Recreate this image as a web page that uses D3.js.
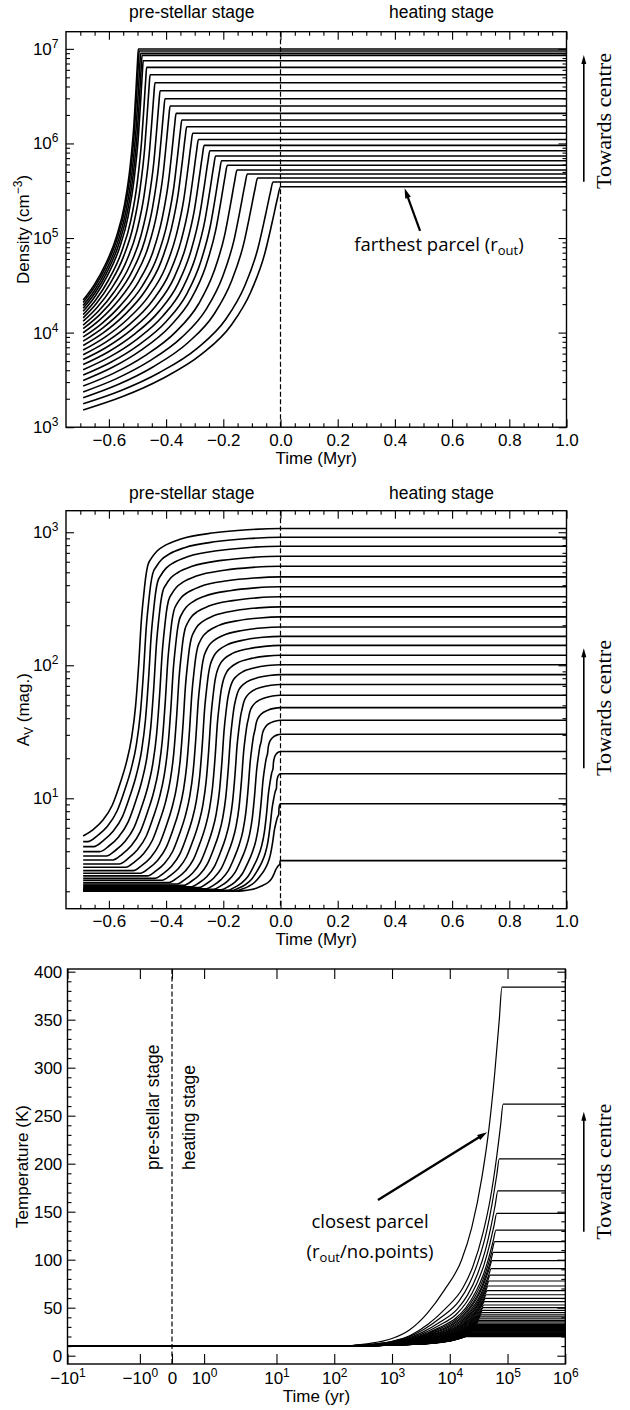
<!DOCTYPE html>
<html>
<head>
<meta charset="utf-8">
<script src="https://cdn.jsdelivr.net/npm/d3@7/dist/d3.min.js"></script>
<style>
html,body{margin:0;padding:0;background:#fff;}
svg{display:block;}
</style>
</head>
<body>
<svg id="chart" width="630" height="1410"></svg>
<script>
// ================= DATA =================
// --- panel 1 : density of each parcel (cm^-3) ---
const collapseStart = -0.69;                 // Myr, start of pre-stellar collapse
const densityStart = [2.21e4, 2.08e4, 1.94e4, 1.81e4, 1.68e4, 1.55e4, 1.43e4, 1.32e4, 1.20e4, 1.10e4,
                      9.96e3, 9.0e3, 8.13e3, 7.31e3, 6.54e3, 5.84e3, 5.19e3, 4.59e3, 4.05e3, 3.56e3,
                      3.12e3, 2.72e3, 2.36e3, 2.05e3, 1.77e3, 1.52e3];
const densityFinal = [9.95e6, 9.48e6, 8.96e6, 8.53e6, 7.48e6, 6.37e6, 5.32e6, 4.38e6, 3.61e6, 2.97e6,
                      2.49e6, 2.08e6, 1.77e6, 1.50e6, 1.28e6, 1.10e6, 9.55e5, 8.38e5, 7.36e5, 6.57e5,
                      5.87e5, 5.23e5, 4.75e5, 4.31e5, 3.91e5, 3.48e5];
const densityReached = [-0.497, -0.494, -0.489, -0.484, -0.480, -0.468, -0.456, -0.439, -0.421, -0.404,
                        -0.386, -0.365, -0.345, -0.328, -0.307, -0.287, -0.267, -0.247, -0.227, -0.206,
                        -0.186, -0.152, -0.116, -0.080, -0.026, 0.0];
// normalised collapse profile read from the farthest parcel (time fraction -> log-density fraction)
const collapseShapeF = [0, 0.2, 0.4, 0.6, 0.75, 0.85, 0.92, 0.96, 0.985, 1];
const collapseShapeG = [0, 0.06, 0.14, 0.25, 0.38, 0.53, 0.70, 0.85, 0.95, 1];

// --- panel 2 : visual extinction (mag) ---
const avStart = [5.21, 4.72, 4.33, 3.97, 3.68, 3.44, 3.21, 3.03, 2.86, 2.73, 2.61, 2.50, 2.42,
                 2.33, 2.27, 2.22, 2.16, 2.13, 2.09, 2.07, 2.05, 2.03, 2.02, 2.01, 2.0];
const avFinal = [1067, 916, 785, 660, 555, 462, 389, 327, 275, 231, 194, 165, 141,
                 119, 101, 85, 71.7, 59.5, 48, 38.6, 30.3, 22.5, 15.3, 9.1, 3.4];
const avRiseStart = [-0.69, -0.674, -0.653, -0.632, -0.609, -0.586, -0.564, -0.541, -0.515, -0.490,
                     -0.465, -0.439, -0.414, -0.389, -0.362, -0.337, -0.311, -0.285, -0.259, -0.234,
                     -0.208, -0.186, -0.171, -0.159, -0.152];
const avKnee = [-0.464, -0.447, -0.430, -0.412, -0.392, -0.373, -0.354, -0.334, -0.312, -0.290,
                -0.268, -0.246, -0.224, -0.202, -0.179, -0.157, -0.134, -0.112, -0.089, -0.067,
                -0.045, -0.026, -0.014, -0.006, -0.002];
const avRiseF = [0, 0.15, 0.3, 0.45, 0.57, 0.67, 0.75, 0.81, 0.86, 0.9, 0.94, 0.97, 1];
const avRiseG = [0, 0.02, 0.05, 0.1, 0.17, 0.24, 0.32, 0.42, 0.56, 0.7, 0.79, 0.845, 0.88];
const avSettleU = [0.03, 0.07, 0.13, 0.25, 0.5, 0.75, 1];
const avSettleG = [0.905, 0.927, 0.945, 0.966, 0.986, 0.996, 1];

// --- panel 3 : temperature (K) ---
const tempInitial = 10;
const tempFinal = [384, 262, 205, 171.6, 148.3, 130.9, 118.8, 107.7, 99, 90.6,
                   84, 77.8, 72.6, 67.7, 63.5, 59.8, 56.3, 52.8, 50, 47.3,
                   44.8, 42.5, 40.4, 38.5, 36.8, 35.2, 33.8, 32.5, 31.3, 30.2,
                   29.2, 28.3, 27.5, 26.8, 26.1, 25.5, 24.9, 24.4, 23.9, 23.4,
                   23.0, 22.6, 22.2, 21.9, 21.6, 21.3, 21.0, 20.7, 20.5, 20.3,
                   20.1, 19.9];
const tempPlateauTime = [8.0e4, 8.4e4, 7.2e4, 6.8e4, 6.5e4, 6.3e4, 6.0e4, 5.7e4, 5.4e4, 5.2e4,
                         5.0e4, 4.8e4, 4.6e4, 4.45e4, 4.3e4, 4.15e4, 4.0e4, 3.9e4, 3.8e4, 3.7e4,
                         3.6e4, 3.5e4, 3.4e4, 3.3e4, 3.2e4, 3.12e4, 3.04e4, 2.96e4, 2.88e4, 2.8e4,
                         2.73e4, 2.66e4, 2.6e4, 2.54e4, 2.48e4, 2.42e4, 2.37e4, 2.32e4, 2.27e4, 2.22e4,
                         2.18e4, 2.14e4, 2.1e4, 2.07e4, 2.04e4, 2.01e4, 1.98e4, 1.96e4, 1.94e4, 1.92e4,
                         1.91e4, 1.9e4];
const heatShapeS = [0.00125, 0.005, 0.0125, 0.025, 0.05, 0.1, 0.2, 0.3, 0.45, 0.6, 0.75, 0.9, 1];
const heatShapeG = [0, 0.007, 0.021, 0.045, 0.09, 0.155, 0.24, 0.33, 0.47, 0.61, 0.76, 0.91, 1];

// --- ticks ---
const myrTicks = [-0.6, -0.4, -0.2, 0.0, 0.2, 0.4, 0.6, 0.8, 1.0];
const myrTickLabels = ["\u22120.6", "\u22120.4", "\u22120.2", "0.0", "0.2", "0.4", "0.6", "0.8", "1.0"];
const densityTicks = [1e3, 1e4, 1e5, 1e6, 1e7];
const densityTickExp = ["3", "4", "5", "6", "7"];
const avTicks = [1e1, 1e2, 1e3];
const avTickExp = ["1", "2", "3"];
const tempTicks = [0, 50, 100, 150, 200, 250, 300, 350, 400];
const yrTicks = [-10, -1, 0, 1, 10, 1e2, 1e3, 1e4, 1e5, 1e6];
const yrTickBase = ["\u221210", "\u221210", "0", "10", "10", "10", "10", "10", "10", "10"];
const yrTickExp = ["1", "0", "", "0", "1", "2", "3", "4", "5", "6"];

// ================= DRAWING =================
const FONT = "'Liberation Sans', Arial, Helvetica, sans-serif";
const ANNO = "'Open Sans', 'Noto Sans', sans-serif";
const SERIF = "'Liberation Serif', 'DejaVu Serif', serif";
const svg = d3.select("#chart");

// scales
const xMyr = d3.scaleLinear().domain([-0.75, 1.0]).range([66, 566.5]);
const yDen = d3.scaleLog().domain([1e3, 1.518e7]).range([427.2, 31.7]);
const yAv = d3.scaleLog().domain([1.479, 1452]).range([908.7, 510.7]);
const yTemp = d3.scaleLinear().domain([-8.65, 402.8]).range([1364, 969]);

// symmetric-log time axis of the reference (units: decades)
const symLin = 0.556, symDec1 = 1.253;
function symT(t) {
  const a = Math.abs(t), s = Math.sign(t);
  if (a <= 1) return t * symLin;
  if (a <= 10) return s * (symLin + symDec1 * Math.log10(a));
  return s * (symLin + symDec1 + Math.log10(a / 10));
}
const xYrLin = d3.scaleLinear().domain([symT(-10), symT(1e6)]).range([67.5, 565.3]);
const xYr = t => xYrLin(symT(t));
xYr.copy = () => xYr;
xYr.range = () => xYrLin.range();
xYr.domain = () => [-10, 1e6];

// helpers
function axisPart(axisFn, scale, vals, len, pad, tr) {
  const s = svg.append("g").attr("transform", tr)
    .call(axisFn(scale).tickValues(vals).tickSize(-len).tickPadding(pad).tickFormat(() => ""));
  s.select(".domain").remove();
  s.attr("font-family", FONT).attr("font-size", 17);
  s.selectAll(".tick line").attr("stroke", "#000").attr("stroke-width", 1.1);
  s.selectAll(".tick text").attr("fill", "#000");
  return s;
}
function decorate(s, fn) {
  s.selectAll(".tick text").each(function (d) { const t = d3.select(this); t.text(null); fn(t, d); });
}
function supLabel(t, base, exp) {
  t.append("tspan").text(base);
  if (exp !== "") t.append("tspan").attr("dy", -7).attr("font-size", 12).text(exp);
}
function logMinor(dom) {
  const out = [];
  for (let e = Math.floor(Math.log10(dom[0])); e <= Math.ceil(Math.log10(dom[1])); e++)
    for (let k = 2; k <= 9; k++) { const v = k * Math.pow(10, e); if (v > dom[0] && v < dom[1]) out.push(v); }
  return out;
}
function frame(x, y) {
  const [x0, x1] = x.range(), [yb, yt] = y.range();
  svg.append("rect").attr("x", x0).attr("y", yt).attr("width", x1 - x0).attr("height", yb - yt)
    .attr("fill", "none").attr("stroke", "#000").attr("stroke-width", 1.4);
}
function dashedZero(x, y) {
  const [yb, yt] = y.range();
  svg.append("line").attr("x1", x(0)).attr("x2", x(0)).attr("y1", yt).attr("y2", yb)
    .attr("stroke", "#000").attr("stroke-width", 1.2).attr("stroke-dasharray", "5,2.5");
}
function arrow(x1, y1, x2, y2, headLen, headW, lw) {
  const dx = x2 - x1, dy = y2 - y1, L = Math.hypot(dx, dy), ux = dx / L, uy = dy / L;
  const bx = x2 - ux * headLen, by = y2 - uy * headLen;
  svg.append("line").attr("x1", x1).attr("y1", y1).attr("x2", bx + ux * 1).attr("y2", by + uy * 1)
    .attr("stroke", "#000").attr("stroke-width", lw);
  svg.append("path").attr("fill", "#000")
    .attr("d", `M${x2},${y2}L${bx - uy * headW / 2},${by + ux * headW / 2}L${bx + uy * headW / 2},${by - ux * headW / 2}Z`);
}
function towards(yTop, yBot, yMid) {
  arrow(583.8, yBot, 583.8, yTop, 9, 5, 1.6);
  svg.append("text").attr("transform", `translate(611,${yMid}) rotate(-90)`)
    .attr("text-anchor", "middle").attr("font-family", SERIF).attr("font-size", 21)
    .attr("textLength", 136).attr("lengthAdjust", "spacingAndGlyphs")
    .attr("fill", "#000").text("Towards centre");
}
function stageLabels(y) {
  const g = svg.append("g").attr("font-family", FONT).attr("font-size", 17.5).attr("text-anchor", "middle");
  g.append("text").attr("x", xMyr(-0.31)).attr("y", y).text("pre-stellar stage");
  g.append("text").attr("x", xMyr(0.563)).attr("y", y).text("heating stage");
}
function myrAxes(y, yTicks, yExp, yMinor) {
  const [x0, x1] = xMyr.range(), [yb, yt] = y.range();
  const xMinor = d3.range(-14, 21).map(i => i / 20).filter(v => Math.abs(v * 5 - Math.round(v * 5)) > 1e-6);
  const b = axisPart(d3.axisBottom, xMyr, myrTicks, 8, 6.7, `translate(0,${yb})`);
  decorate(b, (t, d) => t.text(myrTickLabels[myrTicks.indexOf(d)]));
  axisPart(d3.axisBottom, xMyr, xMinor, 4, 3, `translate(0,${yb})`);
  axisPart(d3.axisTop, xMyr, myrTicks, 8, 3, `translate(0,${yt})`);
  axisPart(d3.axisTop, xMyr, xMinor, 4, 3, `translate(0,${yt})`);
  const l = axisPart(d3.axisLeft, y, yTicks, 8, 7.5, `translate(${x0},0)`);
  decorate(l, (t, d) => supLabel(t, "10", yExp[yTicks.indexOf(d)]));
  axisPart(d3.axisLeft, y, yMinor, 4, 3, `translate(${x0},0)`);
  axisPart(d3.axisRight, y, yTicks, 8, 3, `translate(${x1},0)`);
  axisPart(d3.axisRight, y, yMinor, 4, 3, `translate(${x1},0)`);
}
const lg = Math.log10;

// ---------- PANEL 1 : density ----------
const lineDen = d3.line().x(d => xMyr(d[0])).y(d => yDen(d[1])).curve(d3.curveMonotoneX);
const denSeries = densityFinal.map((nf, i) => {
  const n0 = densityStart[i], tf = densityReached[i];
  const pts = collapseShapeF.map((f, k) => [collapseStart + f * (tf - collapseStart),
    Math.pow(10, lg(n0) + collapseShapeG[k] * (lg(nf) - lg(n0)))]);
  pts.push([1.0, nf]);
  return pts;
});
svg.append("g").selectAll("path").data(denSeries).join("path")
  .attr("d", lineDen).attr("fill", "none").attr("stroke", "#000").attr("stroke-width", 1.6)
  .attr("stroke-linejoin", "round");
dashedZero(xMyr, yDen);
frame(xMyr, yDen);
myrAxes(yDen, densityTicks, densityTickExp, logMinor(yDen.domain()));
stageLabels(17.5);
svg.append("text").attr("x", d3.mean(xMyr.range())).attr("y", 464).attr("text-anchor", "middle")
  .attr("font-family", FONT).attr("font-size", 17).text("Time (Myr)");
{
  const t = svg.append("text").attr("transform", `translate(28.5,${d3.mean(yDen.range())}) rotate(-90)`)
    .attr("text-anchor", "middle").attr("font-family", FONT).attr("font-size", 17);
  t.append("tspan").text("Density (cm");
  t.append("tspan").attr("dy", -7).attr("font-size", 12).text("\u22123");
  t.append("tspan").attr("dy", 7).text(")");
}
arrow(xMyr(0.488), yDen(1.19e5), xMyr(0.434), yDen(3.35e5), 10, 6, 2.2);
{
  const t = svg.append("text").attr("x", xMyr(0.554)).attr("y", yDen(7.3e4)).attr("text-anchor", "middle")
    .attr("font-family", ANNO).attr("font-size", 18.5);
  t.append("tspan").text("farthest parcel (r");
  t.append("tspan").attr("dy", 4).attr("font-size", 13).text("out");
  t.append("tspan").attr("dy", -4).text(")");
}
towards(55, 181.7, 121);

// ---------- PANEL 2 : A_V ----------
const lineAv = d3.line().x(d => xMyr(d[0])).y(d => yAv(d[1])).curve(d3.curveMonotoneX);
const avSeries = avFinal.map((af, i) => {
  const a0 = avStart[i], ts = avRiseStart[i], tk = avKnee[i];
  const val = g => Math.pow(10, lg(a0) + g * (lg(af) - lg(a0)));
  const pts = [];
  if (ts > collapseStart) pts.push([collapseStart, a0]);
  avRiseF.forEach((f, k) => pts.push([ts + f * (tk - ts), val(avRiseG[k])]));
  avSettleU.forEach((u, k) => pts.push([tk + u * (0 - tk), val(avSettleG[k])]));
  pts.push([1.0, af]);
  return pts;
});
svg.append("g").selectAll("path").data(avSeries).join("path")
  .attr("d", lineAv).attr("fill", "none").attr("stroke", "#000").attr("stroke-width", 1.6)
  .attr("stroke-linejoin", "round");
dashedZero(xMyr, yAv);
frame(xMyr, yAv);
myrAxes(yAv, avTicks, avTickExp, logMinor(yAv.domain()));
stageLabels(499);
svg.append("text").attr("x", d3.mean(xMyr.range())).attr("y", 945.4).attr("text-anchor", "middle")
  .attr("font-family", FONT).attr("font-size", 17).text("Time (Myr)");
{
  const t = svg.append("text").attr("transform", `translate(28.5,${d3.mean(yAv.range())}) rotate(-90)`)
    .attr("text-anchor", "middle").attr("font-family", FONT).attr("font-size", 17);
  t.append("tspan").text("A");
  t.append("tspan").attr("dy", 4).attr("font-size", 12).text("V");
  t.append("tspan").attr("dy", -4).text(" (mag.)");
}
towards(648.3, 768.3, 708);

// ---------- PANEL 3 : temperature ----------
const lineT = d3.line().x(d => xYr(d[0])).y(d => yTemp(d[1])).curve(d3.curveMonotoneX);
const tSeries = tempFinal.map((tf, i) => {
  const tp = tempPlateauTime[i];
  const pts = [[-10, tempInitial]];
  heatShapeS.forEach((s, k) => pts.push([s * tp, tempInitial + heatShapeG[k] * (tf - tempInitial)]));
  pts.push([1e6, tf]);
  return pts;
});
svg.append("g").selectAll("path").data(tSeries).join("path")
  .attr("d", lineT).attr("fill", "none").attr("stroke", "#000").attr("stroke-width", 1.2)
  .attr("stroke-linejoin", "round");
dashedZero(xYr, yTemp);
frame(xYr, yTemp);
{
  const [x0, x1] = xYr.range(), [yb, yt] = yTemp.range();
  const tMinor = d3.range(10, 400, 10).filter(v => v % 50 !== 0);
  const b = axisPart(d3.axisBottom, xYr, yrTicks, 10, 8.2, `translate(0,${yb})`);
  decorate(b, (t, d) => { const i = yrTicks.indexOf(d); supLabel(t, yrTickBase[i], yrTickExp[i]); });
  axisPart(d3.axisTop, xYr, yrTicks, 10, 3, `translate(0,${yt})`);
  const l = axisPart(d3.axisLeft, yTemp, tempTicks, 8, 5.2, `translate(${x0},0)`);
  decorate(l, (t, d) => t.text(String(d)));
  axisPart(d3.axisLeft, yTemp, tMinor, 4, 3, `translate(${x0},0)`);
  axisPart(d3.axisRight, yTemp, tempTicks, 8, 3, `translate(${x1},0)`);
  axisPart(d3.axisRight, yTemp, tMinor, 4, 3, `translate(${x1},0)`);
}
svg.append("text").attr("x", d3.mean(xYr.range())).attr("y", 1402).attr("text-anchor", "middle")
  .attr("font-family", FONT).attr("font-size", 17).text("Time (yr)");
svg.append("text").attr("transform", `translate(28,${d3.mean(yTemp.range())}) rotate(-90)`)
  .attr("text-anchor", "middle").attr("font-family", FONT).attr("font-size", 17).text("Temperature (K)");
{
  const g = svg.append("g").attr("font-family", FONT).attr("font-size", 17.5).attr("text-anchor", "start");
  g.append("text").attr("transform", `translate(${xYr(0) - 13},${yTemp(193.4)}) rotate(-90)`).text("pre-stellar stage");
  g.append("text").attr("transform", `translate(${xYr(0) + 23.4},${yTemp(193.4)}) rotate(-90)`).text("heating stage");
}
arrow(xYr(571), yTemp(162.2), xYr(4.43e4), yTemp(232.7), 10, 6, 2.4);
{
  const g = svg.append("g").attr("font-family", ANNO).attr("font-size", 18.5).attr("text-anchor", "middle");
  g.append("text").attr("x", xYr(416)).attr("y", yTemp(133.3)).text("closest parcel");
  const t = g.append("text").attr("x", xYr(416)).attr("y", yTemp(102));
  t.append("tspan").text("(r");
  t.append("tspan").attr("dy", 4).attr("font-size", 13).text("out");
  t.append("tspan").attr("dy", -4).text("/no.points)");
}
towards(1111.7, 1231.7, 1171.7);
</script>
</body>
</html>
